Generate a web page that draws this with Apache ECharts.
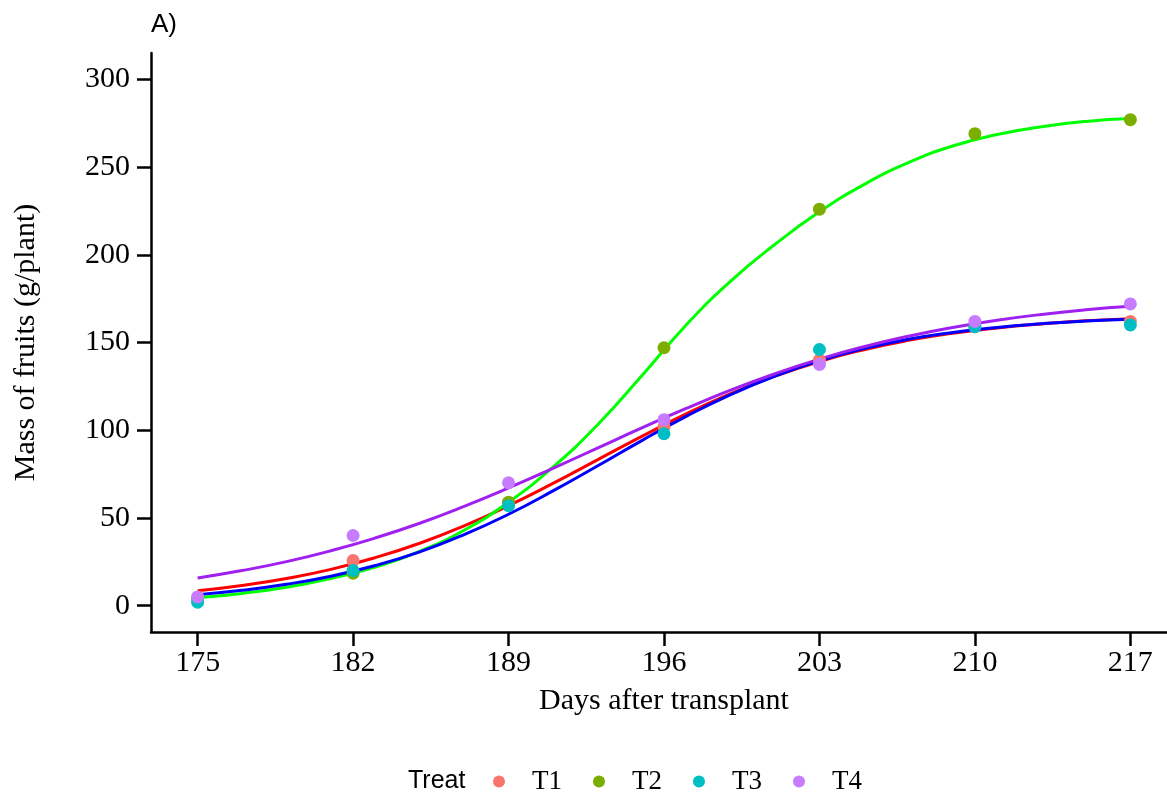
<!DOCTYPE html>
<html>
<head>
<meta charset="utf-8">
<script src="https://cdn.jsdelivr.net/npm/echarts@6/dist/echarts.min.js"></script>
<style>
  html, body { margin: 0; padding: 0; background: #fff; }
  #main { width: 1167px; height: 798px; }
</style>
</head>
<body>
<div id="main"></div>
<script>
// observed points
const days = [175, 182, 189, 196, 203, 210, 217];
const t1 = [4.5, 25.7, 58, 102, 140, 159, 162];
const t2 = [4.5, 18.5, 59, 147, 226, 269, 277];
const t3 = [2, 20, 57, 98, 146, 159, 160];
const t4 = [5, 40, 70, 106, 137.5, 162, 172];

// fitted curves, every 2 days
const fitDays = [175, 177, 179, 181, 183, 185, 187, 189, 191, 193, 195, 197, 199, 201, 203, 205, 207, 209, 211, 213, 215, 217];
const fit1 = [8.5, 11.5, 15.5, 20.7, 27.4, 35.6, 45.5, 57.0, 69.7, 83.1, 96.5, 109.3, 120.8, 130.8, 139.2, 145.9, 151.2, 155.3, 158.3, 160.6, 162.4, 163.6];
const fit2 = [4.5, 7, 10.5, 15.5, 22, 31, 43, 59, 79, 103, 131, 160, 185, 206, 224.5, 240, 252.5, 262, 268.5, 273, 276, 277.6];
const fit3 = [6.3, 8.8, 12.2, 16.8, 22.9, 30.7, 40.5, 52.1, 65.4, 79.6, 94.1, 107.9, 120.3, 130.9, 139.6, 146.5, 151.8, 155.7, 158.6, 160.7, 162.3, 163.3];
const fit4 = [15.8, 20.0, 25.1, 31.3, 38.6, 47.0, 56.6, 67.1, 78.3, 89.8, 101.3, 112.4, 122.8, 132.2, 140.5, 147.6, 153.6, 158.6, 162.7, 166.0, 168.6, 170.6];

const xTicks = [175, 182, 189, 196, 203, 210, 217];
const yTicks = [0, 50, 100, 150, 200, 250, 300];

const treats = ['T1', 'T2', 'T3', 'T4'];
const pointColors = ['#F8766D', '#7CAE00', '#00BFC4', '#C77CFF'];
const lineColors = ['#FF0000', '#00FF00', '#0000FF', '#A020F0'];

const pts = [t1, t2, t3, t4];
const fits = [fit1, fit2, fit3, fit4];

const serif = '"Liberation Serif", "Times New Roman", serif';
const sans = '"Liberation Sans", Arial, sans-serif';

const chart = echarts.init(document.getElementById('main'));

let series = [];
fits.forEach((f, i) => {
  series.push({
    name: treats[i] + ' fit',
    type: 'line',
    smooth: true,
    showSymbol: false,
    silent: true,
    z: 2,
    lineStyle: { color: lineColors[i], width: 3 },
    data: fitDays.map((d, j) => [d, f[j]])
  });
});
pts.forEach((p, i) => {
  series.push({
    name: treats[i],
    type: 'scatter',
    symbol: 'circle',
    symbolSize: 13,
    z: 3 + i,
    itemStyle: { color: pointColors[i], opacity: 1 },
    data: days.map((d, j) => [d, p[j]])
  });
});

chart.setOption({
  animation: false,
  backgroundColor: '#fff',
  grid: {
    left: 151,
    right: -10,
    top: 53,
    bottom: 166,
    containLabel: false,
    outerBoundsMode: 'none'
  },
  graphic: [
    {
      type: 'text',
      left: 151,
      top: 12,
      style: { text: 'A)', font: '26px ' + sans, fill: '#000' }
    },
    {
      type: 'text',
      left: 408,
      top: 769,
      style: { text: 'Treat', font: '25px ' + sans, fill: '#000' }
    }
  ],
  legend: {
    data: treats,
    left: 493,
    top: 768,
    padding: 0,
    itemWidth: 12,
    itemHeight: 12,
    itemGap: 31,
    icon: 'circle',
    textStyle: {
      fontFamily: serif,
      fontSize: 27,
      color: '#000',
      padding: [0, 0, 0, 22]
    }
  },
  xAxis: {
    type: 'value',
    min: 172.9,
    max: 219.1,
    name: 'Days after transplant',
    nameLocation: 'middle',
    nameGap: 54,
    nameTextStyle: { fontFamily: serif, fontSize: 30, color: '#000' },
    axisLine: { show: true, onZero: false, lineStyle: { color: '#000', width: 2.5 } },
    axisTick: { show: true, length: 14, lineStyle: { color: '#000', width: 2.5 }, customValues: xTicks },
    axisLabel: { fontFamily: serif, fontSize: 30, color: '#000', margin: 16, customValues: xTicks },
    splitLine: { show: false }
  },
  yAxis: {
    type: 'value',
    min: -15,
    max: 315,
    name: 'Mass of fruits (g/plant)',
    nameLocation: 'middle',
    nameGap: 110,
    nameTextStyle: { fontFamily: serif, fontSize: 30, color: '#000' },
    axisLine: { show: true, onZero: false, lineStyle: { color: '#000', width: 2.5 } },
    axisTick: { show: true, length: 14, lineStyle: { color: '#000', width: 2.5 }, customValues: yTicks },
    axisLabel: { fontFamily: serif, fontSize: 30, color: '#000', margin: 21, customValues: yTicks },
    splitLine: { show: false }
  },
  series: series
});
</script>
</body>
</html>
